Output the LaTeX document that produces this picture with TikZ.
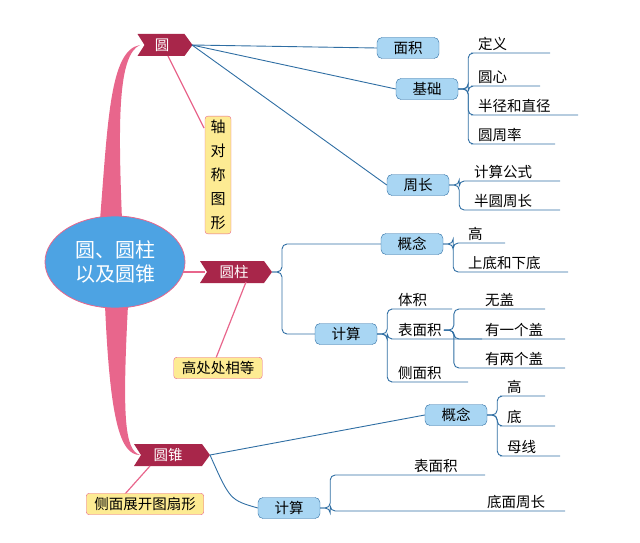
\documentclass[tikz,border=0pt]{standalone}
\usepackage{fontspec}
\setmainfont{Noto Sans CJK SC}
\usetikzlibrary{shapes.geometric}
\definecolor{ribbon}{HTML}{A8264A}
\definecolor{pinkl}{HTML}{E8668C}
\definecolor{rootc}{HTML}{4DA3E3}
\definecolor{bluel}{HTML}{2F6EA3}
\definecolor{boxf}{HTML}{A9D6F3}
\definecolor{calf}{HTML}{FDEB93}
\tikzset{
  x=1pt,y=-1pt,
  every node/.style={font=\fontsize{14.5}{17}\selectfont},
  box/.style={draw=bluel,fill=boxf,rounded corners=5pt,minimum height=21pt,minimum width=62pt,inner xsep=6pt,inner ysep=1pt},
  leaf/.style={inner sep=2pt,anchor=south west},
  call/.style={draw=pinkl,fill=calf,rounded corners=3pt,inner sep=4pt},
  conn/.style={draw=bluel,line width=0.9pt,rounded corners=5pt},
  pconn/.style={draw=pinkl,line width=1.2pt},
}
\newcommand{\ribbon}[4]{% name, center x, y, width
  \fill[ribbon] (#2-#4/2,#3-11) -- (#2+#4/2-8,#3-11) -- (#2+#4/2,#3) -- (#2+#4/2-8,#3+11) -- (#2-#4/2,#3+11) -- (#2-#4/2+7,#3) -- cycle;
}
\begin{document}
\begin{tikzpicture}
\useasboundingbox (0,0) rectangle (640,543);
% pink trunks
\fill[pinkl] (100,220) .. controls (108,120) and (110,50) .. (140,45) .. controls (118,55) and (118,120) .. (122,220) -- cycle;
\fill[pinkl] (105,305) .. controls (110,420) and (120,455) .. (140,455) .. controls (125,450) and (122,420) .. (128,305) -- cycle;
\draw[pinkl,line width=2pt] (180,272) -- (205,272);
% ribbons
\ribbon{a}{165}{45}{55}
\node[white] (c1) at (162,45) {圆};
\ribbon{b}{236}{272}{72}
\node[white] (c2) at (234,272) {圆柱};
\ribbon{c}{172}{455}{76}
\node[white] (c3) at (168,455) {圆锥};
\coordinate (c1e) at (192,45);
\coordinate (c2e) at (272,272);
\coordinate (c3e) at (210,455);
% root
\node[ellipse,fill=rootc,draw=pinkl,line width=0.8pt,minimum width=140pt,minimum height=92pt,text=white,align=center,font=\fontsize{20}{24}\selectfont] (root) at (115,262) {圆、圆柱\\以及圆锥};
% callouts
\draw[pconn] (168,56) -- (204,128);
\draw[pconn] (246,282) -- (216,358);
\draw[pconn] (150,466) -- (125,494);
\node[call,align=center,text width=18pt,font=\fontsize{15}{24}\selectfont] (k1) at (218,175) {轴\\对\\称\\图\\形};
\node[call,inner xsep=8pt] (k2) at (218,368) {高处处相等};
\node[call,inner xsep=8pt] (k3) at (145,504) {侧面展开图扇形};
% blue boxes
\node[box] (mj) at (408,48) {面积};
\node[box] (jc) at (427,89) {基础};
\node[box] (zc) at (418,185) {周长};
\node[box] (gn1) at (412,244) {概念};
\node[box] (js1) at (346,334) {计算};
\node[box] (gn2) at (456,415) {概念};
\node[box] (js2) at (289,508) {计算};
\draw[conn] (c1e) -- (mj.west);
\draw[conn] (c1e) -- (jc.west);
\draw[conn] (c1e) -- (zc.west);
\draw[conn] (c2e) -- (282,272) |- (gn1.west);
\draw[conn] (c2e) -- (282,272) |- (js1.west);
\draw[conn] (c3e) -- (gn2.west);
\draw[conn] (c3e) .. controls (230,500) .. (js2.west);
% leaves
\node[leaf] (l1) at (476,53) {定义};
\node[leaf] (l2) at (476,86) {圆心};
\node[leaf] (l3) at (476,115) {半径和直径};
\node[leaf] (l4) at (476,144) {圆周率};
\node[leaf] (l5) at (472,181) {计算公式};
\node[leaf] (l6) at (472,210) {半圆周长};
\node[leaf] (l7) at (466,243) {高};
\node[leaf] (l8) at (466,272) {上底和下底};
\node[leaf] (l9) at (396,309) {体积};
\node[leaf] (l10) at (396,339) {表面积};
\node[leaf] (l11) at (396,382) {侧面积};
\node[leaf] (l12) at (483,309) {无盖};
\node[leaf] (l13) at (483,339) {有一个盖};
\node[leaf] (l14) at (483,368) {有两个盖};
\node[leaf] (l15) at (505,396) {高};
\node[leaf] (l16) at (505,426) {底};
\node[leaf] (l17) at (505,456) {母线};
\node[leaf] (l18) at (412,475) {表面积};
\node[leaf] (l19) at (485,511) {底面周长};
\foreach \p/\l/\r in {jc/l1/550,jc/l2/540,jc/l3/578,jc/l4/555,zc/l5/560,zc/l6/560,gn1/l7/505,gn1/l8/568,js1/l9/452,js1/l10/482,js1/l11/468,l10/l12/545,l10/l13/565,l10/l14/565,gn2/l15/545,gn2/l16/555,gn2/l17/560,js2/l18/485,js2/l19/565}{
  \draw[conn] (\p.east) -- ++(10,0) |- (\l.south west) -- (\r,0 |- \l.south west);
}
\end{tikzpicture}
\end{document}
